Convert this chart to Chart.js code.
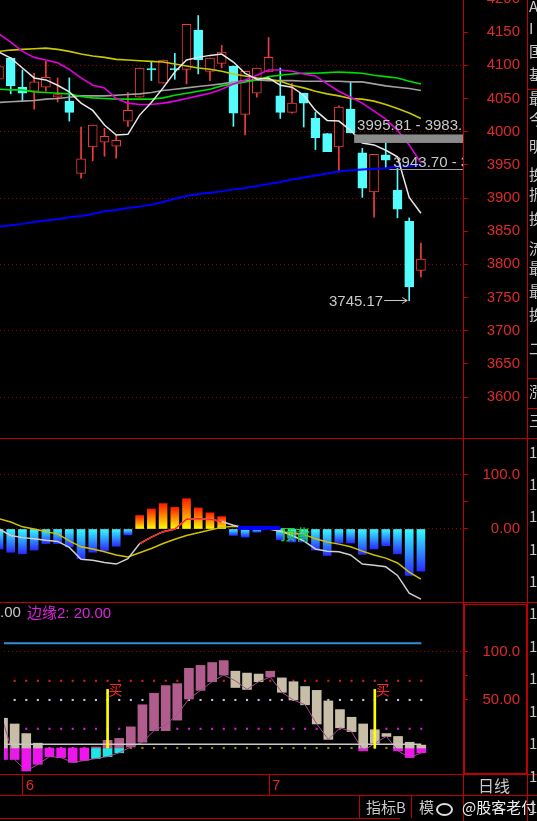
<!DOCTYPE html>
<html>
<head>
<meta charset="utf-8">
<title>日线</title>
<script src="https://cdn.jsdelivr.net/npm/chart.js@4.4.1/dist/chart.umd.min.js"></script>
<style>
  body { margin: 0; background: #000; width: 537px; height: 821px; overflow: hidden; position: relative; font-family: "Liberation Sans", "Noto Sans CJK SC", sans-serif; }
  canvas { position: absolute; left: 0; }
  .ln { position: absolute; background: #c00000; z-index: 5; }
  .tx { position: absolute; white-space: nowrap; z-index: 6; line-height: 1; }
  .cjk { font-family: "Noto Sans CJK SC", sans-serif; }
  #side { position: absolute; left: 528px; top: 0; width: 9px; height: 821px; overflow: hidden; z-index: 6; color: #c8c8c8; font: 15px "Noto Sans CJK SC", sans-serif; }
  #side div { position: absolute; left: 1px; line-height: 1; }
</style>
</head>
<body>
<canvas id="priceChart" width="537" height="467" style="top:-15px"></canvas>
<canvas id="macdChart" width="537" height="192" style="top:424px"></canvas>
<canvas id="kdChart" width="537" height="218" style="top:589px"></canvas>

<!-- panel frames -->
<div class="ln" style="left:463px;top:0;width:1px;height:821px"></div>
<div class="ln" style="left:527px;top:0;width:1px;height:821px"></div>
<div class="ln" style="left:0;top:438px;width:537px;height:1px"></div>
<div class="ln" style="left:0;top:602px;width:537px;height:1px"></div>
<div class="ln" style="left:0;top:774px;width:537px;height:1px"></div>
<div class="ln" style="left:0;top:795px;width:537px;height:1px"></div>
<div class="ln" style="left:0;top:818px;width:400px;height:1px"></div>
<div class="ln" style="left:359px;top:795px;width:1px;height:23px"></div>
<div class="ln" style="left:411px;top:795px;width:1px;height:23px"></div>
<div class="ln" style="left:527px;top:89px;width:10px;height:1px"></div>
<div class="ln" style="left:527px;top:378px;width:10px;height:1px"></div>
<div class="ln" style="left:527px;top:408px;width:10px;height:1px"></div>
<div style="position:absolute;left:464px;top:604px;width:61px;height:168px;border:1px solid #c00000;z-index:5"></div>

<!-- texts -->
<div class="tx" style="left:0;top:604px;font-size:15px;color:#c8c8c8">.00</div>
<div class="tx" style="left:27px;top:605px;font-size:15px;color:#dd22dd">边缘2: 20.00</div>
<div class="tx cjk" style="left:478px;top:777px;font-size:16px;color:#c8c8c8">日线</div>
<div class="tx cjk" style="left:366px;top:799px;font-size:15px;color:#c8c8c8">指标B</div>
<div class="tx cjk" style="left:419px;top:799px;font-size:15px;color:#c8c8c8">模</div>
<div style="position:absolute;left:436px;top:803px;width:13px;height:9px;border:2px solid #ddd;border-radius:50%;z-index:6"></div>
<div class="tx cjk" style="left:462px;top:799px;font-size:15px;color:#eeeeee">@股客老付</div>

<div id="side">
  <div style="top:-2px">A</div><div style="top:20px">I</div><div style="top:43px">国</div><div style="top:66px">基</div>
  <div style="top:90px">最</div><div style="top:111px">今</div><div style="top:138px">明</div><div style="top:166px">换</div>
  <div style="top:186px">振</div><div style="top:210px">换</div><div style="top:240px">流</div><div style="top:260px">最</div>
  <div style="top:283px">最</div><div style="top:306px">换</div><div style="top:340px">二</div><div style="top:383px">涨</div>
  <div style="top:412px">三</div>
  <div style="top:444px">1</div><div style="top:476px">1</div><div style="top:508px">1</div><div style="top:541px">1</div>
  <div style="top:573px">1</div><div style="top:605px">1</div><div style="top:638px">1</div><div style="top:670px">1</div>
  <div style="top:703px">1</div><div style="top:735px">1</div><div style="top:768px">1</div><div style="top:799px">1</div>
</div>

<script>
// ---- price panel data ----
const candleOpen  = [4079,4111,4067,4061,4067,4052,4046,3937,3977,3984,3978,4016,4052,4095,4073,4095,4094,4153,4091,4103,4099,4026,4058,4090,4054,4029,4058,4020,3997,3977,4034,3968,3909,3965,3912,3865,3791];
const candleClose = [4098,4069,4058,4075,4082,4056,4029,3959,4010,3993,3987,4032,4096,4093,4108,4093,4162,4108,4111,4120,4028,4091,4096,4112,4029,4043,4043,3991,3970,4037,3998,3915,3966,3957,3883,3766,3808];
const candleHigh  = [4100,4112,4093,4088,4106,4081,4081,4007,4010,4005,3995,4059,4096,4106,4108,4118,4162,4175,4111,4130,4099,4091,4096,4142,4096,4073,4058,4029,3997,4039,4075,3975,3966,3983,3945,3870,3832];
const candleLow   = [4075,4057,4046,4034,4061,4045,4016,3930,3956,3963,3960,4008,4052,4077,4073,4079,4072,4087,4077,4096,4008,3995,4052,4090,4020,4028,4007,3973,3970,3939,3998,3901,3871,3946,3870,3745.17,3781];

const maWhite   = [4120,4111,4096,4081,4078,4070,4060,4043,4032,4010,3995,3996,4025,4044,4066,4090,4108,4112,4115,4117,4105,4088,4079,4081,4070,4067,4055,4032,4017,4016,4002,3983,3980,3972,3962,3901,3877];
const maYellow  = [4121,4123,4124,4125,4126,4124,4121,4117,4114,4112,4109,4108,4107,4106,4105,4102,4099,4096,4094,4091,4087,4084,4081,4079,4076,4070,4066,4061,4057,4054,4050,4049,4046,4041,4035,4028,4020];
const maMagenta = [4147,4135,4121,4112,4108,4104,4094,4081,4070,4066,4050,4043,4041,4041,4043,4046,4050,4054,4058,4064,4072,4078,4085,4093,4093,4091,4087,4084,4072,4061,4052,4043,4031,4019,4002,3980,3953];
const maGreen   = [4064,4063,4063,4060,4059,4058,4057,4053,4051,4050,4049,4049,4049,4049,4051,4055,4058,4061,4064,4069,4072,4075,4078,4083,4085,4087,4088,4088,4089,4090,4089,4088,4085,4083,4081,4076,4072];
const maGrey    = [4044,4045,4046,4047,4049,4050,4052,4054,4054,4054,4055,4056,4057,4059,4062,4064,4066,4068,4070,4072,4075,4077,4078,4077,4077,4077,4076,4076,4076,4076,4075,4075,4072,4069,4067,4065,4062];
const maBlue    = [3857,3859,3861,3864,3866,3868,3871,3873,3876,3880,3882,3885,3887,3890,3894,3899,3903,3906,3908,3910,3913,3915,3918,3921,3924,3928,3931,3934,3937,3940,3942,3943,3944,3945,3947,3948,3950];

const priceTicks = [3600,3650,3700,3750,3800,3850,3900,3950,4000,4050,4100,4150,4200];
const gapBand = [3995.81, 3983.0];
const gapBandStart = 30.3;
const gapLine = 3943.70;
const gapLineStart = 33.3;
const lowMark = 3745.17;
const lowMarkIndex = 35;

// ---- middle panel ----
const macdHist   = [-37,-43,-46,-39,-27,-27,-33,-55,-43,-40,-32,-11,25,37,47,40,56,39,30,23,-12,-15,-6,2,-20,-24,-24,-39,-49,-26,-26,-47,-37,-31,-46,-86,-78];
const macdWhite  = [0,-12,-16,-18,-21,-23,-34,-56,-58,-62,-65,-55,-27,-15,-5,0,18,19,18,14,7,2,0,1,-4,-12,-22,-37,-41,-42,-48,-65,-67,-70,-86,-119,-130];
const macdYellow = [19,13,4,0,-5,-9,-22,-33,-37,-42,-48,-52,-44,-36,-27,-19,-12,-7,-2,3,5,3,1,0,-4,-8,-10,-18,-24,-28,-33,-41,-48,-54,-63,-80,-93];
const macdRedRange = [12, 19];
const divSpan = [20.4, 24];
const divLevel = 2;
const divTextIndex = 24;
const macdTicks = [100, 50, 0];
const macdTickLabels = ['100.0', '', '0.00'];

// ---- bottom panel ----
const kdFrom = [31,25,15,5,0,0,0,0,-11,-9,-5,1,6,18,18,29,51,60,69,76,80,78,77,74,73,69,64,60,49,40,32,25,19,15,12,6,3];
const kdTo   = [-12,-12,-24,-17,-9,-10,-15,-13,1,8,10,22,45,57,65,67,83,86,89,91,63,61,69,80,58,50,45,25,9,21,17,-3,5,12,-3,-10,-5];
const kdLine = [28,-12,-24,-17,-9,-10,-15,-13,-11,-9,-5,1,6,18,24,35,51,60,69,76,70,61,69,74,58,50,45,25,9,21,17,-3,5,12,-3,-10,-5];
const kdDotLevels = [70, 50, 20, 0];
const kdBlueLevel = 109;
const kdWhiteLevel = 4;
const buySignalIdx = [9, 32];
const buySignalTop = 61;
const kdTicks = [100, 75, 50];
const kdTickLabels = ['100.0', '', '50.00'];
const monthTickPos = [1.7, 22.9];
const monthLabels = ['6', '7'];

// ---- styles ----
const RED = '#f03c3c', CYAN = '#54fcfc';
const FRAME = '#c00000', GRID = '#a00000', LABEL = '#dd2a2a';
const dotColors = ['#d02020', '#c0c0e0', '#d020d0', '#909000'];
const X_MIN = 0.085, X_MAX = 39.59;

Chart.defaults.font.family = '"Liberation Sans", "Noto Sans CJK SC", sans-serif';

const pts = arr => arr.map((v, i) => ({ x: i, y: v }));
const isUp = i => candleClose[i] >= candleOpen[i];

const hiddenX = { type: 'linear', min: X_MIN, max: X_MAX, display: false, offset: false, grid: { offset: false } };

const rightAxis = (min, max, ticks, labels, dotted) => ({
    position: 'right', min, max,
    afterBuildTicks: s => { s.ticks = ticks.map(v => ({ value: v })); },
    afterFit: s => { s.width = 57; },
    ticks: { color: LABEL, font: { size: 15 }, crossAlign: 'far', autoSkip: false, callback: (v, i) => labels[i] },
    grid: { color: c => (c.tick && dotted(c.tick.value)) ? GRID : 'rgba(0,0,0,0)', tickColor: FRAME, tickLength: 5 },
    border: { display: false, dash: [1, 3] }
});

const baseOptions = (padding, scales) => ({
    responsive: false, animation: false, events: [],
    layout: { padding },
    plugins: { legend: { display: false }, tooltip: { enabled: false } },
    scales
});

const line = (data, color, width, order) => ({ type: 'line', data, borderColor: color, borderWidth: width, pointRadius: 0, tension: 0, order });

// Price panel annotations: gap band, gap line, lowest-price arrow
const priceNotes = {
    id: 'priceNotes',
    afterDatasetsDraw(chart) {
        const { ctx, chartArea: a, scales: { x, y } } = chart;
        ctx.save();
        ctx.beginPath();
        ctx.rect(a.left, a.top, a.right - a.left, a.bottom - a.top);
        ctx.clip();
        ctx.font = '15px "Liberation Sans"';

        const gx = x.getPixelForValue(gapBandStart);
        const gTop = y.getPixelForValue(gapBand[0]), gBot = y.getPixelForValue(gapBand[1]);
        ctx.fillStyle = '#8a8a8a';
        ctx.fillRect(gx, gTop, a.right - gx, gBot - gTop);
        ctx.fillStyle = '#c8c8c8';
        ctx.textBaseline = 'alphabetic';
        ctx.fillText(gapBand[0].toFixed(2) + ' - ' + gapBand[1].toFixed(2), gx + 3, gTop - 4);

        const lx0 = x.getPixelForValue(gapLineStart), lyy = Math.round(y.getPixelForValue(gapLine)) + 0.5;
        ctx.strokeStyle = '#a0a0a0';
        ctx.lineWidth = 1;
        ctx.beginPath(); ctx.moveTo(lx0, lyy); ctx.lineTo(a.right, lyy); ctx.stroke();
        ctx.fillText(gapLine.toFixed(2) + ' - 3', lx0 + 4, lyy - 3);

        const tipX = x.getPixelForValue(lowMarkIndex) - 2, tipY = Math.round(y.getPixelForValue(lowMark)) - 0.5;
        ctx.strokeStyle = '#c8c8c8';
        ctx.beginPath();
        ctx.moveTo(tipX - 23, tipY); ctx.lineTo(tipX, tipY);
        ctx.moveTo(tipX - 5, tipY - 3); ctx.lineTo(tipX, tipY); ctx.lineTo(tipX - 5, tipY + 3);
        ctx.stroke();
        ctx.textAlign = 'right';
        ctx.textBaseline = 'middle';
        ctx.fillText(lowMark.toFixed(2), tipX - 24, tipY + 1);
        ctx.restore();
    }
};

new Chart(document.getElementById('priceChart'), {
    type: 'bar',
    data: {
        datasets: [
            line(pts(maWhite), '#e8e8e8', 1.5, 0),
            line(pts(maMagenta), '#e000e0', 1.6, 0),
            line(pts(maYellow), '#c8c800', 1.6, 0),
            line(pts(maGreen), '#00dd00', 1.6, 0),
            line(pts(maGrey), '#a0a0a0', 1.6, 0),
            line(pts(maBlue), '#0000ff', 2, 0),
            {
                data: candleOpen.map((o, i) => ({ x: i, y: [o, candleClose[i]] })),
                barThickness: 9, grouped: false, borderWidth: 1, borderSkipped: false,
                backgroundColor: c => isUp(c.dataIndex) ? '#000000' : CYAN,
                borderColor: c => isUp(c.dataIndex) ? RED : CYAN,
                order: 1
            },
            {
                data: candleLow.map((l, i) => ({ x: i, y: [l, candleHigh[i]] })),
                barThickness: 1, grouped: false,
                backgroundColor: c => isUp(c.dataIndex) ? RED : CYAN,
                order: 2
            }
        ]
    },
    options: baseOptions({ top: 14, bottom: 14, left: 0, right: 17 }, {
        x: hiddenX,
        y: rightAxis(3538.2, 4200, priceTicks, priceTicks.map(String), v => v % 100 === 0)
    }),
    plugins: [priceNotes]
});

// Middle panel: gradient histogram + two lines
const macdNotes = {
    id: 'macdNotes',
    afterDatasetsDraw(chart) {
        const { ctx, scales: { x, y } } = chart;
        ctx.save();
        ctx.font = '15px "Noto Sans CJK SC"';
        ctx.fillStyle = '#18e018';
        ctx.textBaseline = 'middle';
        ctx.fillText('顶背', x.getPixelForValue(divTextIndex), y.getPixelForValue(-9));
        ctx.restore();
    }
};

const histColor = c => {
    const chart = c.chart, ys = chart.scales.y;
    const v = macdHist[c.dataIndex];
    if (!ys || v === undefined) return CYAN;
    const p0 = ys.getPixelForValue(0), p1 = ys.getPixelForValue(v);
    if (!isFinite(p0) || !isFinite(p1) || p0 === p1) return v >= 0 ? '#ffff00' : CYAN;
    const g = chart.ctx.createLinearGradient(0, p0, 0, p1);
    if (v >= 0) { g.addColorStop(0, '#ffff00'); g.addColorStop(1, '#ff1a00'); }
    else { g.addColorStop(0, '#33ffff'); g.addColorStop(1, '#2a2aff'); }
    return g;
};

new Chart(document.getElementById('macdChart'), {
    type: 'bar',
    data: {
        datasets: [
            line(pts(macdWhite).filter(p => p.x >= macdRedRange[0] && p.x <= macdRedRange[1]), '#ff2020', 1.5, 0),
            line(divSpan.map(v => ({ x: v, y: divLevel })), '#0000ff', 4, 0),
            line(pts(macdWhite), '#d0d0d0', 1.5, 1),
            line(pts(macdYellow), '#d0c000', 1.5, 1),
            { data: pts(macdHist), barThickness: 8, grouped: false, backgroundColor: histColor, order: 2 }
        ]
    },
    options: baseOptions({ top: 14, bottom: 14, left: 0, right: 17 }, {
        x: hiddenX,
        y: rightAxis(-135.2, 168.5, macdTicks, macdTickLabels, v => v !== 50)
    }),
    plugins: [macdNotes]
});

// Bottom panel: floating bars split at zero, signal lines, dot rows
const kdParts = kdFrom.map((f, i) => ({ i, lo: Math.min(f, kdTo[i]), hi: Math.max(f, kdTo[i]), up: kdTo[i] > f }));
const kdUpper = kdParts.filter(p => p.hi > 0).map(p => ({ x: p.i, y: [Math.max(p.lo, 0), p.hi], up: p.up }));
const kdLower = kdParts.filter(p => p.lo < 0).map(p => ({ x: p.i, y: [p.lo, Math.min(p.hi, 0)], up: p.up }));

const kdNotes = {
    id: 'kdNotes',
    afterDatasetsDraw(chart) {
        const { ctx, scales: { x, y } } = chart;
        ctx.save();
        ctx.font = '14px "Noto Sans CJK SC"';
        ctx.fillStyle = '#ff2828';
        ctx.textBaseline = 'top';
        buySignalIdx.forEach(i => ctx.fillText('买', x.getPixelForValue(i) + 1, y.getPixelForValue(buySignalTop + 7)));
        ctx.restore();
    }
};

new Chart(document.getElementById('kdChart'), {
    type: 'bar',
    data: {
        datasets: [
            { data: buySignalIdx.map(i => ({ x: i, y: [0, buySignalTop] })), barThickness: 2, grouped: false, backgroundColor: '#ffff00', order: 0 },
            line(candleOpen.map((_, i) => ({ x: i, y: kdWhiteLevel })), '#c8c8c8', 1.5, 1),
            line(candleOpen.map((_, i) => ({ x: i, y: kdBlueLevel })), '#2f8fd8', 2, 1),
            line(pts(kdLine), '#a0508c', 1, 2),
            { data: kdUpper, barThickness: 9, grouped: false, backgroundColor: c => (c.raw && c.raw.up) ? '#b05c8c' : '#c8bea8', order: 3 },
            { data: kdLower, barThickness: 9, grouped: false, backgroundColor: c => (c.raw && c.raw.up) ? '#1ee6e6' : '#f014f0', order: 3 },
            ...kdDotLevels.map((lvl, k) => ({
                type: 'line', showLine: false, order: 5,
                data: candleOpen.map((_, i) => ({ x: i, y: lvl })),
                pointRadius: 1.5, pointStyle: 'rect', pointBorderWidth: 0, pointBackgroundColor: dotColors[k]
            }))
        ]
    },
    options: baseOptions({ top: 14, bottom: 12, left: 0, right: 17 }, {
        x: {
            type: 'linear', min: X_MIN, max: X_MAX, position: 'bottom', offset: false,
            afterBuildTicks: s => { s.ticks = monthTickPos.map(v => ({ value: v })); },
            afterFit: s => { s.height = 21; },
            ticks: { color: LABEL, font: { size: 15 }, align: 'start', padding: -18, labelOffset: 3, autoSkip: false, maxRotation: 0, callback: (v, i) => monthLabels[i] },
            grid: { offset: false, drawOnChartArea: false, tickLength: 21, tickColor: FRAME, color: 'rgba(0,0,0,0)' },
            border: { display: false }
        },
        y: rightAxis(-27.1, 151, kdTicks, kdTickLabels, v => v === 100)
    }),
    plugins: [kdNotes]
});
</script>
</body>
</html>
